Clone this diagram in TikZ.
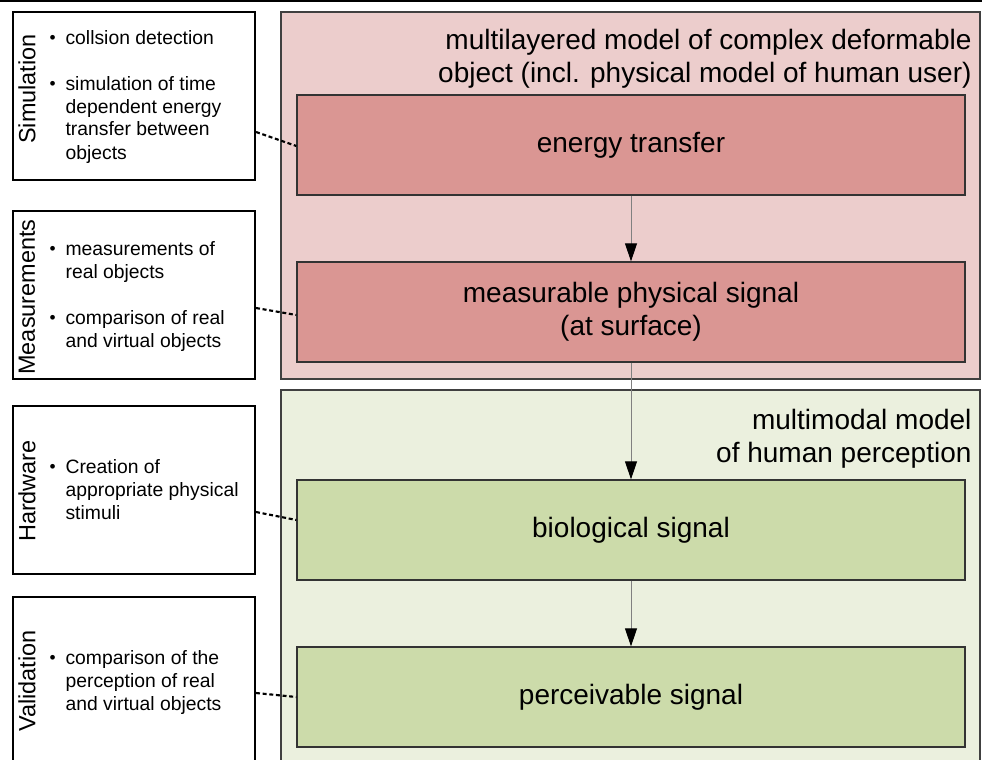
\documentclass[tikz,border=0pt]{standalone}
\usepackage{fontspec}
\setmainfont{Liberation Sans}
\usetikzlibrary{arrows.meta}

\definecolor{layerpink}{RGB}{236,205,204}
\definecolor{stagepink}{RGB}{218,150,147}
\definecolor{layergreen}{RGB}{235,240,222}
\definecolor{stagegreen}{RGB}{204,219,170}

\newcommand{\smalldot}{\raisebox{0.5pt}{\fontsize{13}{13}\selectfont\textbullet}}

\tikzset{every picture/.style={line width=0.75pt}}
\tikzset{
  sidebox/.style={draw=black, line width=1.5pt, fill=white, minimum width=181.5pt, minimum height=126pt, inner sep=0pt},
  stagebox/.style={draw={rgb, 255:red, 51; green, 51; blue, 51}, line width=1pt, minimum width=501pt, minimum height=75pt, inner sep=0pt, align=center, font=\fontsize{21}{24.75}\selectfont},
  sidetitle/.style={rotate=90, inner sep=0pt, font=\fontsize{17.6}{21}\selectfont},
  bullets/.style={anchor=base west, inner sep=0pt, font=\fontsize{14.5}{17.25}\selectfont},
  layertitle/.style={anchor=east, inner sep=0pt, align=right, font=\fontsize{21}{24.75}\selectfont},
  flow/.style={draw={rgb, 255:red, 128; green, 128; blue, 128}, line width=0.75pt, -{Triangle[length=13.5pt, width=9pt, color=black]}},
  link/.style={draw=black, line width=1.6pt, dash pattern=on 3pt off 2pt},
}

\begin{document}
\begin{tikzpicture}[x=0.75pt,y=0.75pt,yscale=-1,xscale=1]
	\clip (0,0) rectangle (982,760);
	
	%Straight Lines [id:top]
	\draw [line width=1.5pt] (0,1) -- (982,1) ;
	%Shape: Rectangle [id:physical layer]
	\draw [draw={rgb, 255:red, 64; green, 64; blue, 64 }, fill=layerpink, line width=1.1pt] (281,12) -- (980,12) -- (980,379) -- (281,379) -- cycle ;
	%Shape: Rectangle [id:perception layer]
	\draw [draw={rgb, 255:red, 64; green, 64; blue, 64 }, fill=layergreen, line width=1.1pt] (281,390) -- (980,390) -- (980,780) -- (281,780) -- cycle ;
	
	%Shape: Rectangle [id:side boxes]
	\draw (134,96) node [sidebox] (sim) {};
	\draw (134,295) node [sidebox] (meas) {};
	\draw (134,490) node [sidebox] (hard) {};
	\draw (134,681) node [sidebox] (valid) {};
	
	%Shape: Rectangle [id:stages]
	\draw (631,145) node [stagebox, fill=stagepink] (energy) {energy transfer};
	\draw (631,312) node [stagebox, fill=stagepink] (measurable) {measurable physical signal\\(at surface)};
	\draw (631,530) node [stagebox, fill=stagegreen] (biological) {biological signal};
	\draw (631,697) node [stagebox, fill=stagegreen] (perceivable) {perceivable signal};
	
	% Text Node
	\draw (972,58.5) node [layertitle] (physicaltitle) {multilayered model of complex deformable\\object (incl. physical model of human user)};
	% Text Node
	\draw (972,439) node [layertitle] (perceptiontitle) {multimodal model\\of human perception};
	
	% Text Node
	\draw (27,89) node [sidetitle] (simtitle) {Simulation};
	\draw (27,297) node [sidetitle] (meastitle) {Measurements};
	\draw (27,491) node [sidetitle] (hardtitle) {Hardware};
	\draw (27,681) node [sidetitle] (validtitle) {Validation};
	
	% Text Node
	\draw (49,44) node [bullets] (simlist) {\begin{tabular}[t]{@{}l@{\hspace{7.5pt}}l@{}}
		\smalldot & collsion detection\\ & \\
		\smalldot & simulation of time\\ & dependent energy\\ & transfer between\\ & objects
	\end{tabular}};
	% Text Node
	\draw (49,255) node [bullets] (measlist) {\begin{tabular}[t]{@{}l@{\hspace{7.5pt}}l@{}}
		\smalldot & measurements of\\ & real objects\\ & \\
		\smalldot & comparison of real\\ & and virtual objects
	\end{tabular}};
	% Text Node
	\draw (49,473) node [bullets] (hardlist) {\begin{tabular}[t]{@{}l@{\hspace{7.5pt}}l@{}}
		\smalldot & Creation of\\ & appropriate physical\\ & stimuli
	\end{tabular}};
	% Text Node
	\draw (49,664) node [bullets] (validlist) {\begin{tabular}[t]{@{}l@{\hspace{7.5pt}}l@{}}
		\smalldot & comparison of the\\ & perception of real\\ & and virtual objects
	\end{tabular}};
	
	%Straight Lines [id:flow]
	\draw [flow] (energy) -- (measurable) ;
	\draw [flow] (measurable) -- (biological) ;
	\draw [flow] (biological) -- (perceivable) ;
	
	%Straight Lines [id:links]
	\draw [link] ([yshift=27pt]sim.east) -- ([yshift=0.75pt]energy.west) ;
	\draw [link] ([yshift=9.75pt]meas.east) -- ([yshift=2.25pt]measurable.west) ;
	\draw [link] ([yshift=16.5pt]hard.east) -- ([yshift=-7.5pt]biological.west) ;
	\draw [link] ([yshift=9pt]valid.east) -- (perceivable.west) ;
	
\end{tikzpicture}
\end{document}
